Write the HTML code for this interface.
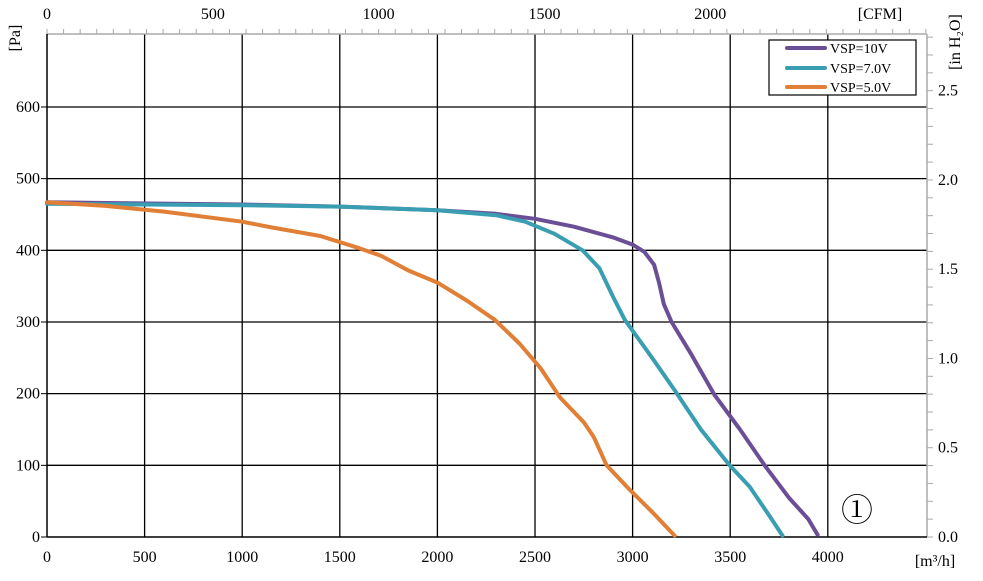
<!DOCTYPE html>
<html><head><meta charset="utf-8">
<style>
html,body{margin:0;padding:0;background:#fff;}
svg{display:block;font-family:"Liberation Serif","Noto Serif CJK SC",serif;}
</style></head>
<body>
<svg id="chart" width="983" height="581" viewBox="0 0 983 581" xmlns="http://www.w3.org/2000/svg">
  <g id="grid"></g>
  <g id="axes"></g>
  <g id="series"></g>
  <text x="20" y="38" font-size="16" transform="rotate(-90 20 38)" text-anchor="middle">[Pa]</text>
  <text x="880" y="19" font-size="16" text-anchor="middle">[CFM]</text>
  <text x="960" y="42" font-size="16" transform="rotate(-90 960 42)" text-anchor="middle">[in H₂O]</text>
  <text x="935" y="566" font-size="16" text-anchor="middle">[m³/h]</text>
  <text x="857" y="521" font-size="32" text-anchor="middle">①</text>
  <g>
    <rect x="769" y="40" width="147" height="55" fill="#fff" stroke="#000" stroke-width="1.2"/>
    <line x1="787" y1="48" x2="825" y2="48" stroke="#6b4f96" stroke-width="4" stroke-linecap="round"/>
    <text x="830" y="53" font-size="14">VSP=10V</text>
    <line x1="787" y1="68" x2="825" y2="68" stroke="#3a9eb3" stroke-width="4" stroke-linecap="round"/>
    <text x="830" y="73" font-size="14">VSP=7.0V</text>
    <line x1="787" y1="87" x2="825" y2="87" stroke="#e07f35" stroke-width="4" stroke-linecap="round"/>
    <text x="830" y="92" font-size="14">VSP=5.0V</text>
  </g>
</svg>
<script>
const xTicks=[0,500,1000,1500,2000,2500,3000,3500,4000];
const yTicks=[0,100,200,300,400,500,600];
const cfmTicks=[0,500,1000,1500,2000];
const inTicks=["0.0","0.5","1.0","1.5","2.0","2.5"];
const flow10=[0,300,1000,1500,2000,2300,2500,2700,2900,3000,3060,3110,3135,3160,3200,3300,3420,3550,3676,3800,3900,3948];
const pres10=[467,466,464,461,456,451,444,433,418,408,398,380,355,325,300,255,198,150,100,55,25,3];
const flow7=[0,1000,1500,2000,2300,2450,2600,2744,2830,2900,2960,3100,3215,3350,3497,3600,3700,3768];
const pres7=[465,463,461,456,449,440,423,400,375,335,303,250,205,150,100,70,30,2];
const flow5=[0,300,600,1000,1150,1400,1600,1715,1850,2000,2150,2294,2420,2530,2627,2750,2800,2867,2985,3100,3215];
const pres5=[467,462,454,440,432,420,403,392,372,355,330,303,270,235,195,160,140,100,66,35,2];
const NS="http://www.w3.org/2000/svg";
const X0=47,XPX=97.6/500,Y0=537,YPX=71.67/100,LEFT=47,RIGHT=927,TOP=34,BOT=537;
const xs=v=>X0+v*XPX, ys=v=>Y0-v*YPX;
function mk(tag,attrs,parent,txt){const e=document.createElementNS(NS,tag);for(const k in attrs)e.setAttribute(k,attrs[k]);if(txt!==undefined)e.textContent=txt;parent.appendChild(e);return e;}
const grid=document.getElementById('grid'),axes=document.getElementById('axes'),ser=document.getElementById('series');
xTicks.forEach(v=>{
  if(v>0){const l=mk('line',{x1:xs(v),x2:xs(v),y1:TOP,y2:BOT,stroke:'#000','stroke-width':1.3},grid);
  
  }
  const t=mk('text',{x:xs(v),y:BOT+25,'font-size':16,'text-anchor':'middle'},axes,String(v));
  
  
});
yTicks.forEach(v=>{
  if(v>0){const l=mk('line',{x1:LEFT,x2:RIGHT,y1:ys(v),y2:ys(v),stroke:'#000','stroke-width':1.3},grid);
  
  }
  mk('line',{x1:LEFT-6,x2:LEFT,y1:ys(v),y2:ys(v),stroke:'#000'},axes);
  const t=mk('text',{x:LEFT-7,y:ys(v)+5,'font-size':16,'text-anchor':'end'},axes,String(v));
  
  
});
mk('line',{x1:LEFT,x2:RIGHT,y1:TOP,y2:TOP,stroke:'#aaa','stroke-width':1.5},axes);
mk('line',{x1:RIGHT,x2:RIGHT,y1:TOP,y2:BOT,stroke:'#aaa','stroke-width':1.5},axes);
mk('line',{x1:LEFT,x2:LEFT,y1:TOP,y2:BOT,stroke:'#000','stroke-width':1.5},axes);
mk('line',{x1:LEFT,x2:RIGHT,y1:BOT,y2:BOT,stroke:'#000','stroke-width':1.5},axes);
const CFM=1.699;
for(let c=0;c*CFM*XPX+X0<=RIGHT;c+=50){mk('line',{x1:xs(c*CFM),x2:xs(c*CFM),y1:TOP-5,y2:TOP,stroke:'#aaa'},axes);}
cfmTicks.forEach(c=>{const t=mk('text',{x:xs(c*CFM),y:19,'font-size':16,'text-anchor':'middle'},axes,String(c));
  
  });
const PAIN=249.1;
for(let i=0;ys(i*0.1*PAIN)>=TOP;i++){mk('line',{x1:RIGHT,x2:RIGHT+6,y1:ys(i*0.1*PAIN),y2:ys(i*0.1*PAIN),stroke:'#aaa'},axes);}
inTicks.forEach(s=>{const t=mk('text',{x:RIGHT+11,y:ys(parseFloat(s)*PAIN)+5,'font-size':16},axes,s);
  
  });
function line(f,p,color,name){
  const d=f.map((v,i)=>(i?'L':'M')+xs(v).toFixed(1)+','+ys(p[i]).toFixed(1)).join(' ');
  const e=mk('path',{d:d,fill:'none',stroke:color,'stroke-width':4,'stroke-linejoin':'round','stroke-linecap':'round'},ser);
  
  
}
line(flow10,pres10,'#6b4f96','curve-vsp-10v');
line(flow7,pres7,'#3a9eb3','curve-vsp-7v');
line(flow5,pres5,'#e07f35','curve-vsp-5v');
</script>
</body></html>
